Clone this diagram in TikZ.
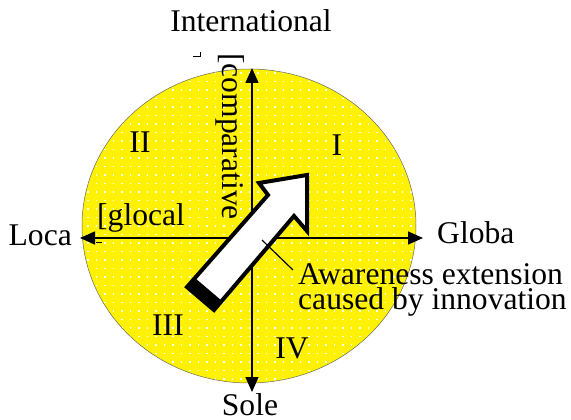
\documentclass[tikz,border=0pt]{standalone}
\usepackage{fontspec}
\setmainfont{Liberation Serif}
\usetikzlibrary{arrows.meta}

\begin{document}
\begin{tikzpicture}[x=1pt,y=-1pt]
    % Define styles for labels and axes
    \tikzstyle{lbl} = [inner sep=0pt, font=\fontsize{31.6}{25.5}\selectfont]
    \tikzstyle{axis} = [line width=1.6pt, -{Triangle[length=15pt,width=13pt]}]
    \useasboundingbox (0,0) rectangle (571,420);

    % Draw the disc with its dots
    \fill[yellow] (249,226) ellipse [x radius=167, y radius=157];
    \begin{scope}
      \clip (249,226) ellipse [x radius=167, y radius=157];
      \foreach \i in {0,...,40} {
        \foreach \j in {0,...,38} {
          \fill[white] (78.5+8.5*\i,72.2+8.5*\j) rectangle ++(1.6,1.6);
        }
      }
    \end{scope}
    \draw[black!60, line width=0.5pt] (249,226) ellipse [x radius=167, y radius=157];

    % Draw the axes
    \coordinate (O) at (252,238);
    \coordinate (up) at (252,68);
    \coordinate (down) at (252,392);
    \coordinate (left) at (80,238);
    \coordinate (right) at (423,238);
    \draw[axis] (O) -- (up);
    \draw[axis] (O) -- (down);
    \draw[axis] (O) -- (left);
    \draw[axis] (O) -- (right);

    % Big arrow
    \draw[line width=4pt, fill=white, miter limit=4]
    (307,175) -- (259,183) -- (268,195) -- (187,287) -- (214,310) -- (294,216) -- (307,231) -- cycle;
    \fill[black] (187,287) -- (214,310) -- (222,301) -- (195,278) -- cycle;

    % Axis labels
    \node[lbl, anchor=base] (intl) at (251,32) {International};
    \node[lbl, anchor=base east] (loca) at (72,245) {Loca};
    \node[lbl, anchor=base west] (globa) at (437,243) {Globa};
    \node[lbl, anchor=base] (sole) at (250,415) {Sole};

    % Quadrants
    \node[lbl, anchor=base] (q1) at (337,155) {I};
    \node[lbl, anchor=base] (q2) at (140,153) {II};
    \node[lbl, anchor=base] (q3) at (168,335) {III};
    \node[lbl, anchor=base] (q4) at (292,358) {IV};

    \node[lbl, anchor=base west] (glocal) at (97,225) {[glocal};
    \node[lbl, rotate=-90, anchor=base west] (comp) at (222,53) {[comparative};
    \draw[line width=0.8pt] (193,56) -- (200,56) -- (200,52);
    \draw[line width=0.8pt] (96,242) -- (102,242);

    % Note on the arrow
    \node[lbl, anchor=north west, align=left] (aware) at (298,263) {Awareness extension\\caused by innovation};
    \coordinate (lead) at (262,240);
    \draw[line width=1.2pt] (lead) -- ([xshift=-5pt,yshift=-7pt]aware.north west);
\end{tikzpicture}
\end{document}
